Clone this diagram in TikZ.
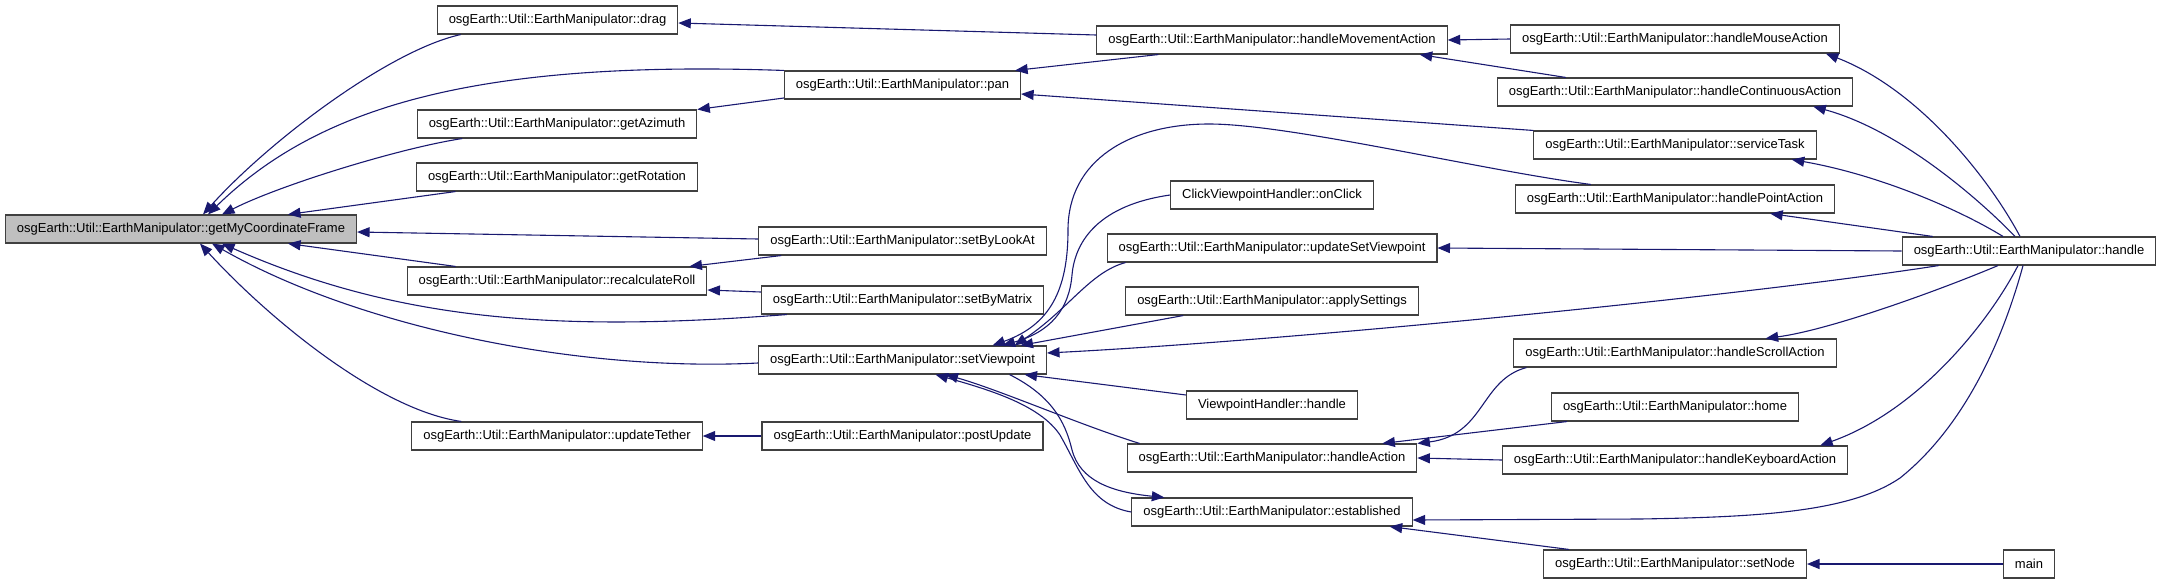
\documentclass[tikz,border=0pt]{standalone}
\usepackage{fontspec}
\setmainfont{Liberation Sans}
\usetikzlibrary{arrows.meta}

\definecolor{edgeblue}{HTML}{191970}
\definecolor{rootgray}{HTML}{BFBFBF}

\begin{document}
\begin{tikzpicture}[
  x=1pt, y=-1pt,
  fn/.style={draw=black!75, line width=1.1pt, minimum height=28pt, inner xsep=11.5pt, inner ysep=0pt, font=\fontsize{13}{15}\selectfont},
  root/.style={fn, fill=rootgray},
  call/.style={draw=edgeblue, line width=1.1pt, -{Triangle[length=12.5pt, width=10pt]}}
]
  \useasboundingbox (0,0) rectangle (2163,584);
  \def\emp{osgEarth::Util::EarthManipulator::}

  \node[root] (gmcf) at (181,229) {\emp getMyCoordinateFrame};

  \foreach \nm/\x/\y/\lbl in {
    drag/557.5/20/drag, getAz/557/124/getAzimuth, getRot/557/177/getRotation,
    recalc/557/281/recalculateRoll, updTether/557/436/updateTether,
    pan/902.5/85/pan, setByLookAt/902.5/241/setByLookAt, setByMatrix/902.5/300/setByMatrix,
    setVP/902.5/360/setViewpoint, postUpd/902.5/436/postUpdate,
    hMove/1272/40/handleMovementAction, updSVP/1272/248/updateSetViewpoint,
    applyS/1272/301/applySettings, hAction/1272/458/handleAction, established/1272/512/established,
    hMouse/1675/39/handleMouseAction, hCont/1675/92/handleContinuousAction,
    servTask/1675/145/serviceTask, hPoint/1675/199/handlePointAction,
    hScroll/1675/353/handleScrollAction, home/1675/407/home,
    hKey/1675/460/handleKeyboardAction, setNode/1675/564/setNode,
    handle/2029/251/handle}
    \node[fn] (\nm) at (\x,\y) {\emp\lbl};

  \node[fn] (onClick) at (1272,195) {ClickViewpointHandler::onClick};
  \node[fn] (vpHandle) at (1272,405) {ViewpointHandler::handle};
  \node[fn] (main) at (2029,564) {main};

  % callers of getMyCoordinateFrame
  \draw[call] ([xshift=24pt]drag.south west) .. controls (390,50) and (270,140) .. ([xshift=22pt]gmcf.north);
  \draw[call] (pan.north west) .. controls (480,60) and (320,105) .. ([xshift=27pt]gmcf.north);
  \draw[call] ([xshift=45.5pt]getAz.south west) .. controls (400,148) and (280,185) .. ([xshift=41pt]gmcf.north);
  \draw[call] ([xshift=39.5pt]getRot.south west) -- ([xshift=107pt]gmcf.north);
  \draw[call] ([yshift=2pt]setByLookAt.west) -- ([yshift=-3pt]gmcf.east);
  \draw[call] ([xshift=49pt]recalc.north west) -- ([xshift=107pt]gmcf.south);
  \draw[call] ([xshift=26pt]setByMatrix.south west) .. controls (560,332) and (400,322) .. ([xshift=41pt]gmcf.south);
  \draw[call] ([yshift=-3pt]setVP.west) .. controls (580,372) and (360,328) .. ([xshift=31pt]gmcf.south);
  \draw[call] ([xshift=50pt]updTether.north west) .. controls (380,410) and (270,320) .. ([xshift=19pt]gmcf.south);

  \draw[call] ([yshift=5pt]hMove.west) -- ([yshift=-3pt]drag.east);
  \draw[call] ([xshift=62pt]hMove.south west) -- ([xshift=-6pt]pan.north east);
  \draw[call] (servTask.north west) -- ([yshift=-9pt]pan.east);
  \draw[call] ([yshift=-13pt]pan.west) -- (getAz.north east);
  \draw[call] ([xshift=23pt]setByLookAt.south west) -- ([xshift=-18pt]recalc.north east);
  \draw[call] ([yshift=8pt]setByMatrix.west) -- ([yshift=-9pt]recalc.east);
  \draw[call] (postUpd) -- (updTether);

  % callers of setViewpoint
  \draw[call] ([xshift=76pt]hPoint.north west) .. controls (1480,170) and (1290,124) .. (1209,124)
    .. controls (1130,124) and (1068,160) .. (1068,230)
    .. controls (1068,290) and (1050,325) .. ([xshift=90pt]setVP.north);
  \draw[call] (onClick.west) .. controls (1100,205) and (1075,240) .. (1072,275)
    .. controls (1069,310) and (1050,332) .. ([xshift=100pt]setVP.north);
  \draw[call] ([xshift=19pt]updSVP.south west) .. controls (1090,272) and (1068,310) .. ([xshift=112pt]setVP.north);
  \draw[call] ([xshift=58pt]applyS.south west) -- ([xshift=118pt]setVP.north);
  \draw[call] ([xshift=37pt]handle.south west) .. controls (1750,295) and (1300,340) .. ([yshift=7pt]setVP.east);
  \draw[call] ([yshift=10pt]vpHandle.west) -- ([xshift=122pt]setVP.south);
  \draw[call] ([xshift=13pt]hAction.north west) .. controls (1080,425) and (1000,390) .. ([xshift=43pt]setVP.south);
  \draw[call] (established.west) .. controls (1090,505) and (1080,470) .. (1060,435)
    .. controls (1040,405) and (990,390) .. ([xshift=33pt]setVP.south);
  \draw[call] ([xshift=107pt]setVP.south) .. controls (1050,395) and (1065,420) .. (1072,450)
    .. controls (1080,480) and (1110,492) .. ([xshift=33pt]established.north west);

  \draw[call] (hMouse.west) -- (hMove.east);
  \draw[call] ([xshift=69pt]hCont.north west) -- ([xshift=-28pt]hMove.south east);
  \draw[call] (handle.west) -- (updSVP.east);
  \draw[call] ([xshift=13pt]hScroll.south west) .. controls (1480,380) and (1485,435) .. (hAction.north east);
  \draw[call] ([xshift=16pt]home.south west) -- ([xshift=-35pt]hAction.north east);
  \draw[call] (hKey.west) -- (hAction.east);
  \draw[call] ([xshift=-6pt]handle.south) .. controls (2000,350) and (1960,430) .. (1900,478)
    .. controls (1850,512) and (1760,517) .. (1640,519) -- ([yshift=-8pt]established.east);
  \draw[call] ([xshift=26pt]setNode.north west) -- ([xshift=-23pt]established.south east);

  % callers of handle
  \draw[call] ([xshift=-9pt]handle.north) .. controls (1990,180) and (1920,90) .. ([xshift=-14pt]hMouse.south east);
  \draw[call] ([xshift=-14pt]handle.north) .. controls (1980,200) and (1900,130) .. ([xshift=-40pt]hCont.south east);
  \draw[call] ([xshift=-26pt]handle.north) .. controls (1960,210) and (1880,175) .. ([xshift=-25pt]servTask.south east);
  \draw[call] ([xshift=31pt]handle.north west) -- ([xshift=-65pt]hPoint.south east);
  \draw[call] ([xshift=-31pt]handle.south) .. controls (1940,290) and (1830,330) .. ([xshift=-71pt]hScroll.north east);
  \draw[call] ([xshift=-11pt]handle.south) .. controls (1990,320) and (1920,410) .. ([xshift=-28pt]hKey.north east);
  \draw[call] (main) -- (setNode);
\end{tikzpicture}
\end{document}
